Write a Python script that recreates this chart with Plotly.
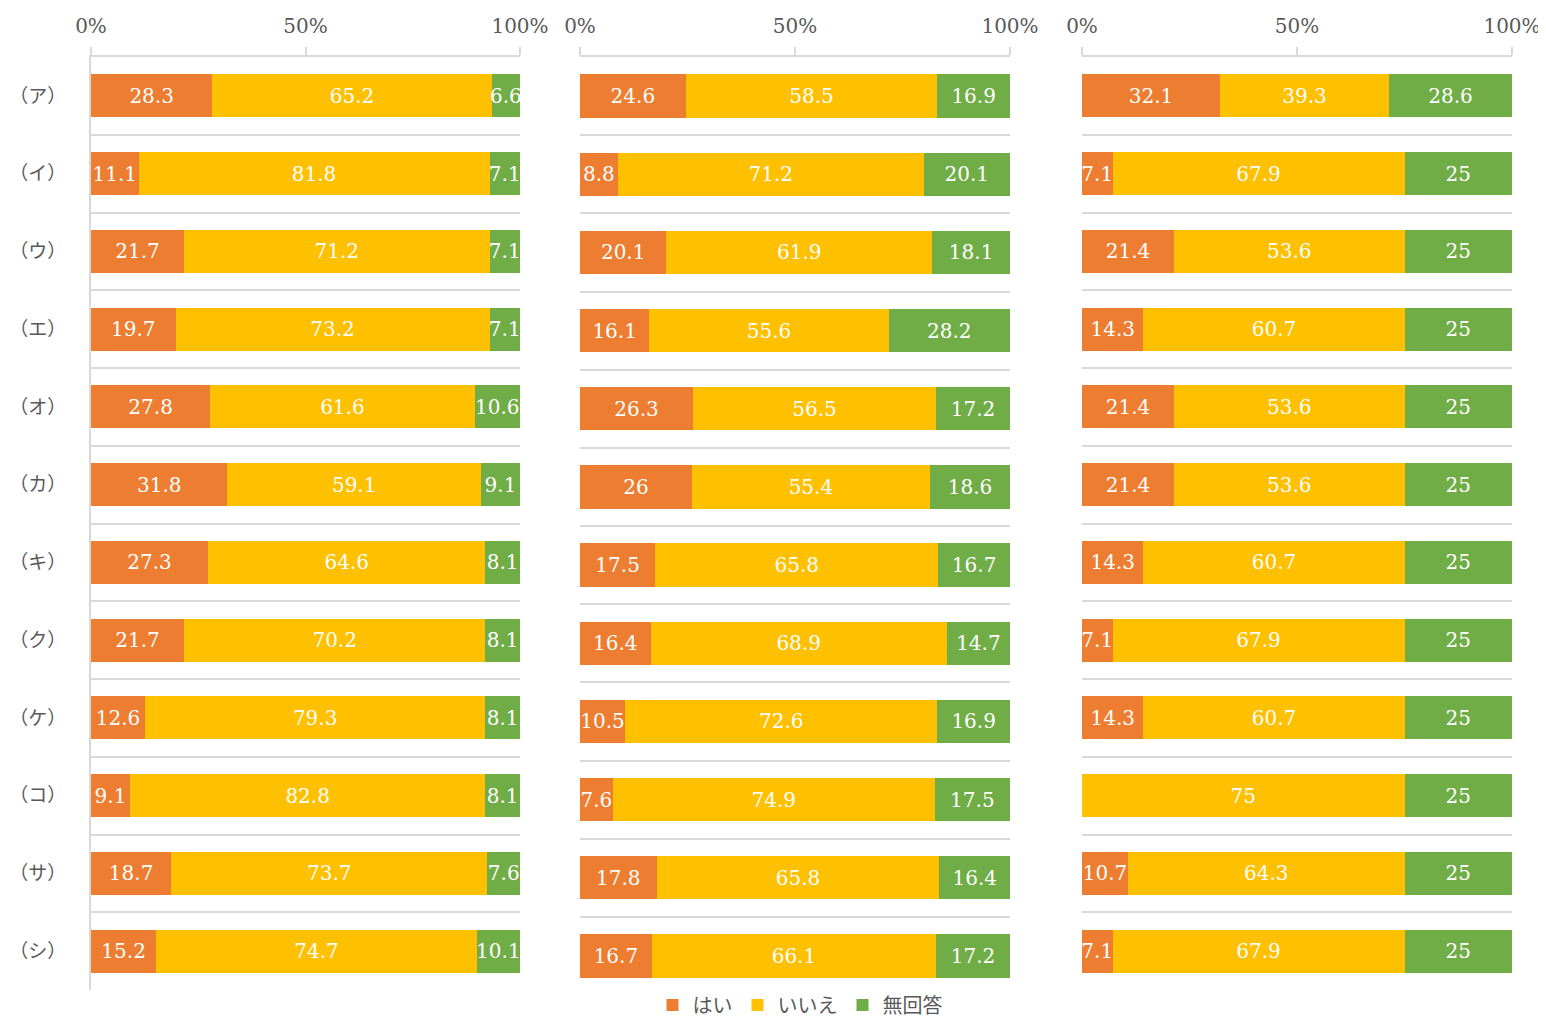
import plotly.graph_objects as go

categories = ["（ア）", "（イ）", "（ウ）", "（エ）", "（オ）", "（カ）",
              "（キ）", "（ク）", "（ケ）", "（コ）", "（サ）", "（シ）"]
series_names = ["はい", "いいえ", "無回答"]
series_colors = ["#ED7D31", "#FFC000", "#70AD47"]
tick_vals = [0, 50, 100]
tick_text = ["0%", "50%", "100%"]

p1_yes = [28.3, 11.1, 21.7, 19.7, 27.8, 31.8, 27.3, 21.7, 12.6, 9.1, 18.7, 15.2]
p1_no = [65.2, 81.8, 71.2, 73.2, 61.6, 59.1, 64.6, 70.2, 79.3, 82.8, 73.7, 74.7]
p1_na = [6.6, 7.1, 7.1, 7.1, 10.6, 9.1, 8.1, 8.1, 8.1, 8.1, 7.6, 10.1]

p2_yes = [24.6, 8.8, 20.1, 16.1, 26.3, 26, 17.5, 16.4, 10.5, 7.6, 17.8, 16.7]
p2_no = [58.5, 71.2, 61.9, 55.6, 56.5, 55.4, 65.8, 68.9, 72.6, 74.9, 65.8, 66.1]
p2_na = [16.9, 20.1, 18.1, 28.2, 17.2, 18.6, 16.7, 14.7, 16.9, 17.5, 16.4, 17.2]

p3_yes = [32.1, 7.1, 21.4, 14.3, 21.4, 21.4, 14.3, 7.1, 14.3, 0, 10.7, 7.1]
p3_no = [39.3, 67.9, 53.6, 60.7, 53.6, 53.6, 60.7, 67.9, 60.7, 75, 64.3, 67.9]
p3_na = [28.6, 25, 25, 25, 25, 25, 25, 25, 25, 25, 25, 25]

panels = [(p1_yes, p1_no, p1_na), (p2_yes, p2_no, p2_na), (p3_yes, p3_no, p3_na)]

# the page body has an 8px margin, so the figure starts at (8, 8) on screen
OX, OY = 8, 8
W, H = 1546 - OX, 1021 - OY
# panel boxes in screen pixels (left, right, top, bottom)
boxes = [(91, 520, 57, 990), (580, 1010, 57, 995), (1082, 1512, 57, 990)]

SERIF = "DejaVu Serif, Noto Sans CJK JP, serif"
GRAY = "#595959"
GRID = "#D9D9D9"

fig = go.Figure()
for i, data in enumerate(panels):
    ax = "" if i == 0 else str(i + 1)
    for s, vals in enumerate(data):
        fig.add_trace(go.Bar(
            x=vals, y=categories, orientation="h",
            name=series_names[s],
            marker=dict(color=series_colors[s], line=dict(width=0)),
            text=[(f"{v:g}" if v else "") for v in vals],
            texttemplate="%{text}",
            textposition="inside", insidetextanchor="middle",
            textangle=0, constraintext="none",
            textfont=dict(family=SERIF, size=20, color="white"),
            showlegend=(i == 1),
            legendgroup=series_names[s],
            xaxis="x" + ax, yaxis="y" + ax,
            hoverinfo="skip",
        ))

layout = dict(
    width=W, height=H,
    margin=dict(l=0, r=0, t=0, b=0, autoexpand=False),
    paper_bgcolor="white", plot_bgcolor="white",
    barmode="stack", barnorm="percent", bargap=0.447,
    font=dict(family=SERIF, size=20, color=GRAY),
    legend=dict(orientation="h", x=(800 - OX) / W, xanchor="center",
                y=1 - (1005 - OY) / H, yanchor="middle",
                font=dict(family="Noto Sans CJK JP", size=20, color=GRAY),
                bgcolor="rgba(0,0,0,0)", itemwidth=30, traceorder="normal",
                tracegroupgap=0),
)
for i, (l, r, t, b) in enumerate(boxes):
    ax = "" if i == 0 else str(i + 1)
    layout["xaxis" + ax] = dict(
        domain=[(l - OX) / W, (r - OX) / W], range=[0, 100], side="top",
        anchor="y" + ax, tickvals=tick_vals, ticktext=tick_text,
        showgrid=False, zeroline=False, showline=True, linecolor=GRID, linewidth=2,
        ticks="outside", ticklen=8, tickwidth=2, tickcolor=GRID,
        tickfont=dict(family=SERIF, size=20, color=GRAY),
        ticklabelstandoff=6, fixedrange=True, automargin=False,
    )
    layout["yaxis" + ax] = dict(
        domain=[1 - (b - OY) / H, 1 - (t - OY) / H], anchor="x" + ax,
        autorange="reversed", type="category",
        showgrid=True, gridcolor=GRID, gridwidth=2, tickson="boundaries",
        ticks="", showline=(i == 0), linecolor=GRID, linewidth=2,
        showticklabels=(i == 0),
        tickfont=dict(family="Noto Sans CJK JP", size=19, color=GRAY),
        ticklabelstandoff=19, zeroline=False, fixedrange=True, automargin=False,
    )
fig.update_layout(**layout)
fig.write_html("out.html")
